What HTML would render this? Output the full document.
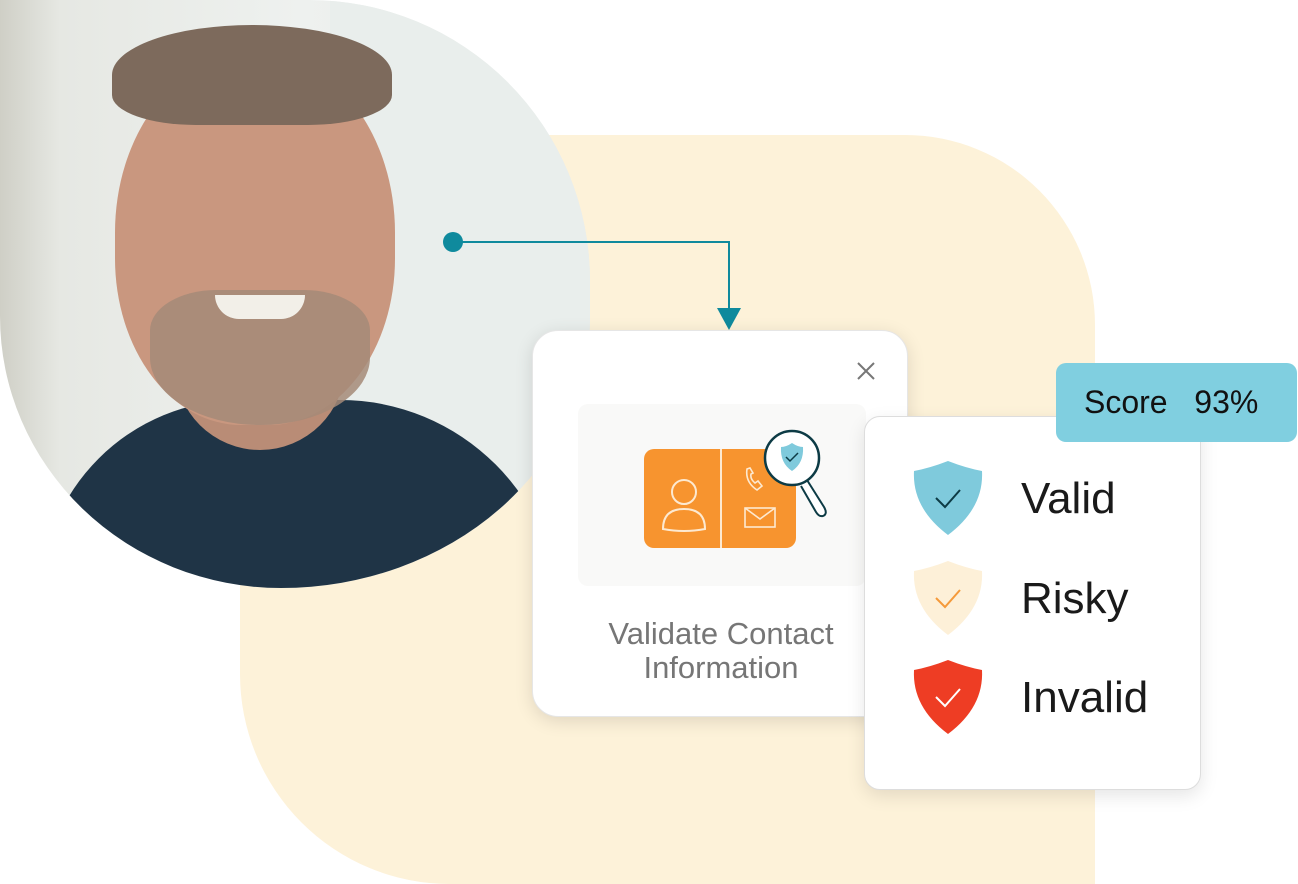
<!DOCTYPE html>
<html><head><meta charset="utf-8"><style>
body{margin:0;width:1298px;height:884px;background:#fff;position:relative;overflow:hidden;font-family:"Liberation Sans",sans-serif}
.abs{position:absolute}
</style></head><body>
<div class="abs" style="left:240px;top:135px;width:855px;height:749px;background:#fdf2d9;border-radius:60px 190px 0 210px"></div>
<div class="abs" style="left:0;top:0;width:590px;height:588px;border-radius:0 300px 330px 300px / 0 300px 288px 290px;overflow:hidden;background:linear-gradient(90deg,#cfcfc6 0,#e6e8e3 60px,#eef1ef 300px,#e7ebe9 590px)">
  <div class="abs" style="left:330px;top:0;width:260px;height:588px;background:#e9eeec"></div>
  <div class="abs" style="left:40px;top:400px;width:520px;height:300px;background:#1f3446;border-radius:200px 220px 0 0"></div>
  <div class="abs" style="left:175px;top:340px;width:170px;height:110px;background:#b98c76;border-radius:0 0 85px 85px"></div>
  <div class="abs" style="left:115px;top:55px;width:280px;height:370px;background:#c9977f;border-radius:48% 48% 45% 45%"></div>
  <div class="abs" style="left:112px;top:25px;width:280px;height:100px;background:#7d6a5c;border-radius:50% 50% 30% 30%"></div>
  <div class="abs" style="left:150px;top:290px;width:220px;height:135px;background:#a58a78;border-radius:30% 30% 50% 50%;opacity:.85"></div>
  <div class="abs" style="left:215px;top:295px;width:90px;height:24px;background:#f2efe8;border-radius:0 0 45px 45px"></div>
</div>
<svg class="abs" style="left:0;top:0" width="1298" height="884">
  <circle cx="453" cy="242" r="10" fill="#0f8a9d"/>
  <path d="M453 242H729V316" fill="none" stroke="#0f8a9d" stroke-width="2"/>
  <path d="M717 308L741 308L729 330Z" fill="#0f8a9d"/>
</svg>
<div class="abs" style="left:532px;top:330px;width:376px;height:387px;background:#fff;border-radius:26px;box-shadow:0 4px 18px rgba(0,0,0,.12);border:1px solid #e6e6e6;box-sizing:border-box">
  <div class="abs" style="left:45px;top:73px;width:288px;height:182px;background:#f9f9f8;border-radius:10px"></div>
  <div class="abs" style="left:0;width:376px;top:286px;text-align:center;color:#767676;font-size:31px;line-height:34px;white-space:nowrap">Validate Contact<br>Information</div>
</div>
<svg class="abs" style="left:532px;top:330px" width="376" height="387">
  <path d="M326 33L342 49M342 33L326 49" stroke="#777" stroke-width="2"/>
  <rect x="112" y="119" width="152" height="99" rx="10" fill="#f7942f"/>
  <line x1="189" y1="119" x2="189" y2="218" stroke="#fde9d0" stroke-width="2"/>
  <circle cx="152" cy="162" r="12" fill="none" stroke="#fde9d0" stroke-width="2"/>
  <path d="M131 199Q131 179 152 179Q173 179 173 199Q152 203 131 199Z" fill="none" stroke="#fde9d0" stroke-width="2"/>
  <path d="M215 139Q213 152 225 160L230 156L226 151L223 153Q218 149 219 144L221 143L218 138Z" fill="none" stroke="#fde9d0" stroke-width="1.6"/>
  <rect x="213" y="178" width="30" height="19" fill="none" stroke="#fde9d0" stroke-width="1.6"/>
  <path d="M213 178L228 189L243 178" fill="none" stroke="#fde9d0" stroke-width="1.6"/>
  <path d="M275 150L292 177Q296 184 291 186Q287 187 284 182L269 156" fill="#fff" stroke="#0d3b45" stroke-width="2"/>
  <circle cx="260" cy="128" r="27" fill="#fff" stroke="#0d3b45" stroke-width="2.5"/>
  <path d="M260 113Q266 117 271 117Q272 133 260 141Q248 133 249 117Q254 117 260 113Z" fill="#7fcadc"/>
  <path d="M254 127L258 131L266 123" fill="none" stroke="#0d3b45" stroke-width="1.5"/>
</svg>
<div class="abs" style="left:864px;top:416px;width:337px;height:374px;background:#fff;border-radius:16px;border:1px solid #ddd;box-sizing:border-box;box-shadow:0 6px 18px rgba(0,0,0,.1)"></div>
<div class="abs" style="left:1056px;top:363px;width:241px;height:79px;background:#80cfe0;border-radius:10px;font-size:32px;line-height:79px;color:#111;box-sizing:border-box;padding-left:28px;white-space:pre">Score   93%</div>
<svg class="abs" style="left:864px;top:416px" width="337" height="374">
  <g transform="translate(84,82)">
    <path d="M0-37Q18-30 34-27Q36 10 0 37Q-36 10-34-27Q-18-30 0-37Z" fill="#7fcadc"/>
    <path d="M-12 0L-3 9L12-8" fill="none" stroke="#0d3b45" stroke-width="2"/>
  </g>
  <g transform="translate(84,182)">
    <path d="M0-37Q18-30 34-27Q36 10 0 37Q-36 10-34-27Q-18-30 0-37Z" fill="#fdf0d8"/>
    <path d="M-12 0L-3 9L12-8" fill="none" stroke="#f59a3a" stroke-width="2"/>
  </g>
  <g transform="translate(84,281)">
    <path d="M0-37Q18-30 34-27Q36 10 0 37Q-36 10-34-27Q-18-30 0-37Z" fill="#ee3d24"/>
    <path d="M-12 0L-3 9L12-8" fill="none" stroke="#fff" stroke-width="2"/>
  </g>
  <text x="157" y="97" font-size="44" fill="#1a1a1a" font-family="Liberation Sans">Valid</text>
  <text x="157" y="197" font-size="44" fill="#1a1a1a" font-family="Liberation Sans">Risky</text>
  <text x="157" y="296" font-size="44" fill="#1a1a1a" font-family="Liberation Sans">Invalid</text>
</svg>
</body></html>
